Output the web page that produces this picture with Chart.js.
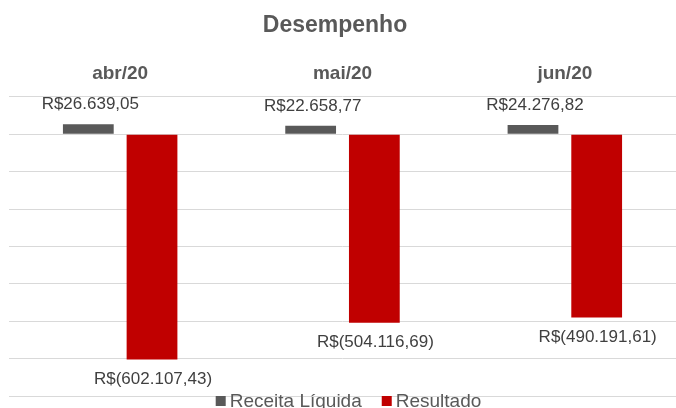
<!DOCTYPE html>
<html>
<head>
<meta charset="utf-8">
<script src="https://cdn.jsdelivr.net/npm/chart.js@4/dist/chart.umd.min.js"></script>
<style>
html,body{margin:0;padding:0;background:#fff;}
#wrap{width:676px;height:408px;position:relative;}
</style>
</head>
<body>
<div id="wrap"><canvas id="c" width="676" height="408"></canvas></div>
<script>
const categories = ['abr/20', 'mai/20', 'jun/20'];
const receitaLiquida = [26639.05, 22658.77, 24276.82];
const resultado = [-602107.43, -504116.69, -490191.61];
const seriesNames = ['Receita Líquida', 'Resultado'];
const chartTitle = 'Desempenho';

const FONT = "'Liberation Sans', Arial, sans-serif";

function fmtBRL(v) {
  const neg = v < 0;
  const a = Math.abs(v);
  const fixed = a.toFixed(2);
  let [intPart, dec] = fixed.split('.');
  intPart = intPart.replace(/\B(?=(\d{3})+(?!\d))/g, '.');
  const s = intPart + ',' + dec;
  return neg ? 'R$(' + s + ')' : 'R$' + s;
}

const labelPlugin = {
  id: 'valueLabels',
  afterDatasetsDraw(chart) {
    const ctx = chart.ctx;
    ctx.save();
    ctx.font = '17px ' + FONT;
    ctx.fillStyle = '#404040';
    ctx.textAlign = 'center';
    ctx.textBaseline = 'middle';
    chart.data.datasets.forEach((ds, di) => {
      const meta = chart.getDatasetMeta(di);
      meta.data.forEach((el, i) => {
        const v = ds.data[i];
        const y = v >= 0 ? el.y - 19.5 : el.y + 20;
        ctx.fillText(fmtBRL(v), el.x + (v >= 0 ? 2 : 1), y);
      });
    });
    ctx.restore();
  }
};

const titleLegendPlugin = {
  id: 'titleLegend',
  afterDraw(chart) {
    const ctx = chart.ctx;
    ctx.save();
    ctx.font = 'bold 23px ' + FONT;
    ctx.fillStyle = '#595959';
    ctx.textAlign = 'center';
    ctx.textBaseline = 'alphabetic';
    ctx.fillText(chartTitle, 335, 32);
    ctx.font = '19px ' + FONT;
    const items = chart.data.datasets.map(d => ({ text: d.label, color: d.backgroundColor }));
    const box = 10, gapBox = 4, gapItem = 20;
    let total = 0;
    items.forEach((it, i) => {
      it.w = ctx.measureText(it.text).width;
      total += box + gapBox + it.w + (i < items.length - 1 ? gapItem : 0);
    });
    let x = 348.5 - total / 2;
    ctx.textAlign = 'left';
    items.forEach(it => {
      ctx.fillStyle = it.color;
      ctx.fillRect(x, 396, box, box);
      x += box + gapBox;
      ctx.fillStyle = '#595959';
      ctx.fillText(it.text, x, 406.5);
      x += it.w + gapItem;
    });
    ctx.restore();
  }
};

new Chart(document.getElementById('c'), {
  type: 'bar',
  data: {
    labels: categories,
    datasets: [
      { label: seriesNames[0], data: receitaLiquida, backgroundColor: '#595959', borderWidth: 0 },
      { label: seriesNames[1], data: resultado, backgroundColor: '#C00000', borderWidth: 0 }
    ]
  },
  options: {
    responsive: false,
    animation: false,
    devicePixelRatio: 1,
    layout: { padding: { left: 9, right: -4, top: 50, bottom: 12 } },
    datasets: { bar: { categoryPercentage: 0.573, barPercentage: 0.797 } },
    plugins: {
      legend: { display: false },
      title: { display: false },
      tooltip: { enabled: false }
    },
    scales: {
      x: {
        position: 'top',
        grid: { display: false, drawTicks: false },
        border: { display: false },
        ticks: { color: '#595959', font: { family: FONT, size: 19, weight: 'bold' }, padding: 12 }
      },
      y: {
        min: -700000,
        max: 100000,
        grid: { color: '#d9d9d9', lineWidth: 1, drawTicks: false },
        border: { display: false },
        ticks: { display: false, stepSize: 100000 }
      }
    }
  },
  plugins: [labelPlugin, titleLegendPlugin]
});
</script>
</body>
</html>
